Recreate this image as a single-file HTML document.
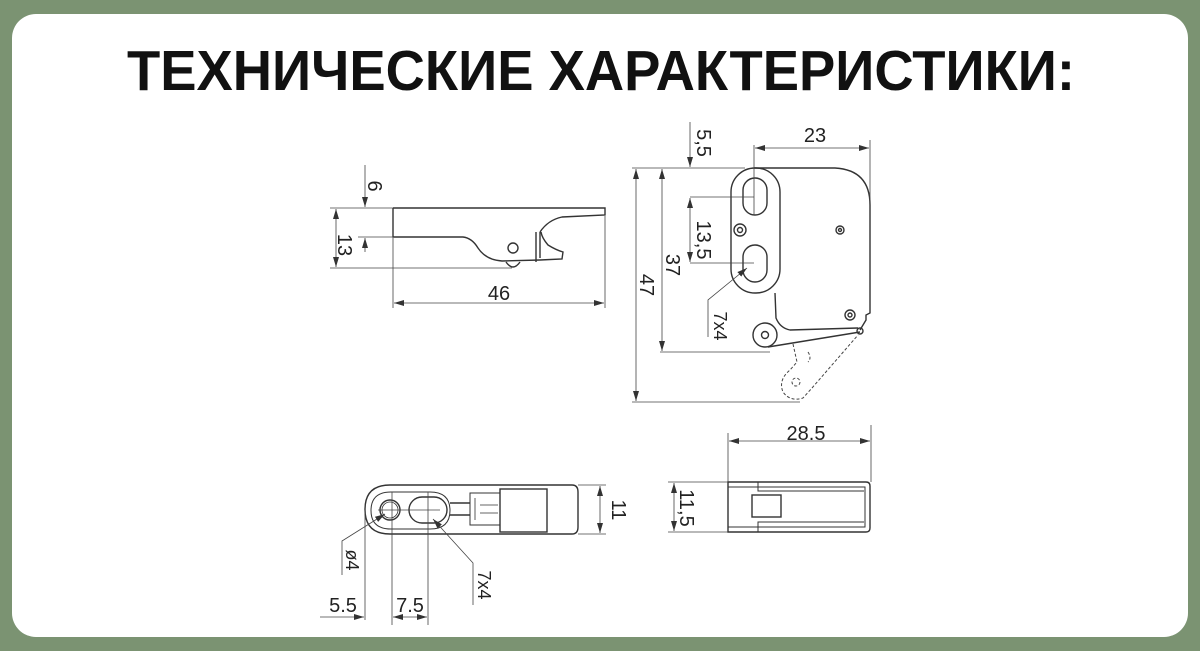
<!DOCTYPE html>
<html><head><meta charset="utf-8"><style>
html,body{margin:0;padding:0;width:1200px;height:651px;overflow:hidden;background:#7b9372}
svg{display:block}
</style></head><body>
<svg width="1200" height="651" viewBox="0 0 1200 651" xmlns="http://www.w3.org/2000/svg">
<defs>
<marker id="a" viewBox="0 0 10 6" refX="10" refY="3" markerWidth="10" markerHeight="6" orient="auto-start-reverse" markerUnits="userSpaceOnUse"><path d="M0,0 L10,3 L0,6 z" fill="#333"/></marker>
</defs>
<rect x="12" y="14" width="1176" height="623" rx="24" fill="#fff"/>
<text x="601" y="90" text-anchor="middle" font-family="Liberation Sans, sans-serif" font-weight="bold" font-size="57" fill="#111" textLength="948" lengthAdjust="spacingAndGlyphs">ТЕХНИЧЕСКИЕ ХАРАКТЕРИСТИКИ:</text>

<g font-family="Liberation Sans, sans-serif" font-size="20" fill="#222">
<!-- LEFT SIDE VIEW -->
<g fill="none" stroke="#333" stroke-width="1.4">
<path d="M393,208 L605,208 L605,215 L562,217 Q548,220 540,232"/>
<path d="M393,208 L393,237 L463,237 Q472,238 478,248 Q486,260 502,261 L540,260 L562,259 L563,252 Q556,250 548,245 Q542,238 541,232"/>
<path d="M536,232 L536,262 M540,232 L540,258"/>
<circle cx="513" cy="248" r="5"/>
<path d="M506,262 Q513,272 520,262"/>
</g>
<g fill="none" stroke="#444" stroke-width="0.8">
<line x1="330" y1="208" x2="393" y2="208"/>
<line x1="358" y1="237" x2="393" y2="237"/>
<line x1="330" y1="268" x2="512" y2="268"/>
<line x1="365" y1="165" x2="365" y2="207" marker-end="url(#a)"/>
<line x1="365" y1="238" x2="365" y2="252" marker-start="url(#a)"/>
<line x1="336" y1="209" x2="336" y2="267" marker-start="url(#a)" marker-end="url(#a)"/>
<line x1="393" y1="238" x2="393" y2="308"/>
<line x1="605" y1="216" x2="605" y2="308"/>
<line x1="394" y1="303" x2="604" y2="303" marker-start="url(#a)" marker-end="url(#a)"/>
</g>
<text x="499" y="300" text-anchor="middle">46</text>
<text transform="translate(368,186) rotate(90)" text-anchor="middle">6</text>
<text transform="translate(338,245) rotate(90)" text-anchor="middle">13</text>

<!-- RIGHT FRONT VIEW -->
<g fill="none" stroke="#333" stroke-width="1.4">
<path d="M754,168 L835,168 Q870,170 870,205 L870,313 L866,315 L866,320 L860,330"/>
<rect x="731" y="168" width="49" height="125" rx="24"/>
<path d="M775,293 L776,318 Q780,328 790,330 L858,328"/>
<path d="M768,347 L860,332"/>
<circle cx="765" cy="335" r="12"/>
<circle cx="765" cy="335" r="3.5"/>
<circle cx="860" cy="331" r="3"/>
<rect x="743" y="178" width="24" height="37" rx="12"/>
<rect x="743" y="245" width="24" height="37" rx="12"/>
<circle cx="740" cy="230" r="6"/><circle cx="740" cy="230" r="2.5"/>
<circle cx="840" cy="230" r="4"/><circle cx="840" cy="230" r="1.5"/>
<circle cx="850" cy="315" r="5"/><circle cx="850" cy="315" r="2"/>
</g>
<g fill="none" stroke="#444" stroke-width="1" stroke-dasharray="3,2">
<path d="M793,344 L797,362 L790,370 Q778,380 783,392 Q790,402 803,398 L812,388 L858,335"/>
<circle cx="796" cy="382" r="4"/>
<path d="M808,352 Q812,358 808,362"/>
</g>
<g fill="none" stroke="#444" stroke-width="0.8">
<line x1="754" y1="145" x2="754" y2="215"/>
<line x1="870" y1="140" x2="870" y2="200"/>
<line x1="755" y1="148" x2="869" y2="148" marker-start="url(#a)" marker-end="url(#a)"/>
<line x1="632" y1="168" x2="745" y2="168"/>
<line x1="690" y1="197" x2="754" y2="197"/>
<line x1="690" y1="263" x2="754" y2="263"/>
<line x1="690" y1="122" x2="690" y2="167" marker-end="url(#a)"/>
<line x1="690" y1="198" x2="690" y2="262" marker-start="url(#a)" marker-end="url(#a)"/>
<line x1="662" y1="169" x2="662" y2="351" marker-start="url(#a)" marker-end="url(#a)"/>
<line x1="636" y1="169" x2="636" y2="401" marker-start="url(#a)" marker-end="url(#a)"/>
<line x1="660" y1="352" x2="770" y2="352"/>
<line x1="632" y1="402" x2="800" y2="402"/>
<path d="M708,337 L708,300 L747,268" marker-end="url(#a)"/>
</g>
<text x="815" y="142" text-anchor="middle">23</text>
<text transform="translate(697,143) rotate(90)" text-anchor="middle">5,5</text>
<text transform="translate(697,240) rotate(90)" text-anchor="middle">13,5</text>
<text transform="translate(666,265) rotate(90)" text-anchor="middle">37</text>
<text transform="translate(640,285) rotate(90)" text-anchor="middle">47</text>
<text transform="translate(714,326) rotate(90)" text-anchor="middle" font-size="18">7x4</text>

<!-- BOTTOM LEFT VIEW -->
<g fill="none" stroke="#333" stroke-width="1.4">
<path d="M390,485 L572,485 Q578,485 578,492 L578,527 Q578,534 572,534 L390,534 Q365,534 365,509.5 Q365,485 390,485 z"/>
<path d="M391,492 L430,492 Q450,492 450,510.5 Q450,529 430,529 L391,529 Q371,529 371,510.5 Q371,492 391,492 z" stroke-width="1"/>
<circle cx="390" cy="510" r="10"/><circle cx="390" cy="510" r="8" stroke-width="0.8"/>
<rect x="409" y="497" width="38" height="26" rx="13"/>
<path d="M450,503 L470,503 M450,515 L470,515"/>
<path d="M470,493 L500,493 L500,525 L470,525 z" stroke-width="1"/>
<path d="M475,498 L475,520 M480,505 L498,505 M480,513 L498,513" stroke-width="0.8"/>
<rect x="500" y="489" width="47" height="43"/>
</g>
<g fill="none" stroke="#444" stroke-width="0.8">
<line x1="378" y1="510" x2="440" y2="510"/>
<line x1="392" y1="492" x2="392" y2="625"/>
<line x1="428" y1="492" x2="428" y2="625"/>
<line x1="365" y1="510" x2="365" y2="620"/>
<line x1="578" y1="485" x2="606" y2="485"/>
<line x1="578" y1="534" x2="606" y2="534"/>
<line x1="600" y1="486" x2="600" y2="533" marker-start="url(#a)" marker-end="url(#a)"/>
<line x1="320" y1="617" x2="364" y2="617" marker-end="url(#a)"/>
<line x1="393" y1="617" x2="427" y2="617" marker-start="url(#a)" marker-end="url(#a)"/>
<path d="M342,575 L342,541 L385,514" marker-end="url(#a)"/>
<path d="M473,605 L473,563 L433,519" marker-end="url(#a)"/>
</g>
<text x="343" y="612" text-anchor="middle">5.5</text>
<text x="410" y="612" text-anchor="middle">7.5</text>
<text transform="translate(612,510) rotate(90)" text-anchor="middle">11</text>
<text transform="translate(346,560) rotate(90)" text-anchor="middle" font-size="18">ø4</text>
<text transform="translate(478,585) rotate(90)" text-anchor="middle" font-size="18">7x4</text>

<!-- BOTTOM RIGHT VIEW -->
<g fill="none" stroke="#333" stroke-width="1.4">
<path d="M728,482 L866,482 Q870,482 870,486 L870,528 Q870,532 866,532 L728,532 z"/>
<path d="M728,487 L865,487 L865,527 L728,527" stroke-width="1"/>
<path d="M758,482 L758,491 L864,491 M758,532 L758,522 L864,522" stroke-width="1"/>
<rect x="752" y="495" width="29" height="22"/>
</g>
<g fill="none" stroke="#444" stroke-width="0.8">
<line x1="728" y1="433" x2="728" y2="482"/>
<line x1="871" y1="425" x2="871" y2="482"/>
<line x1="729" y1="441" x2="870" y2="441" marker-start="url(#a)" marker-end="url(#a)"/>
<line x1="668" y1="482" x2="728" y2="482"/>
<line x1="668" y1="532" x2="728" y2="532"/>
<line x1="674" y1="483" x2="674" y2="531" marker-start="url(#a)" marker-end="url(#a)"/>
</g>
<text x="806" y="440" text-anchor="middle">28.5</text>
<text transform="translate(680,508) rotate(90)" text-anchor="middle">11,5</text>
</g>
</svg>
</body></html>
